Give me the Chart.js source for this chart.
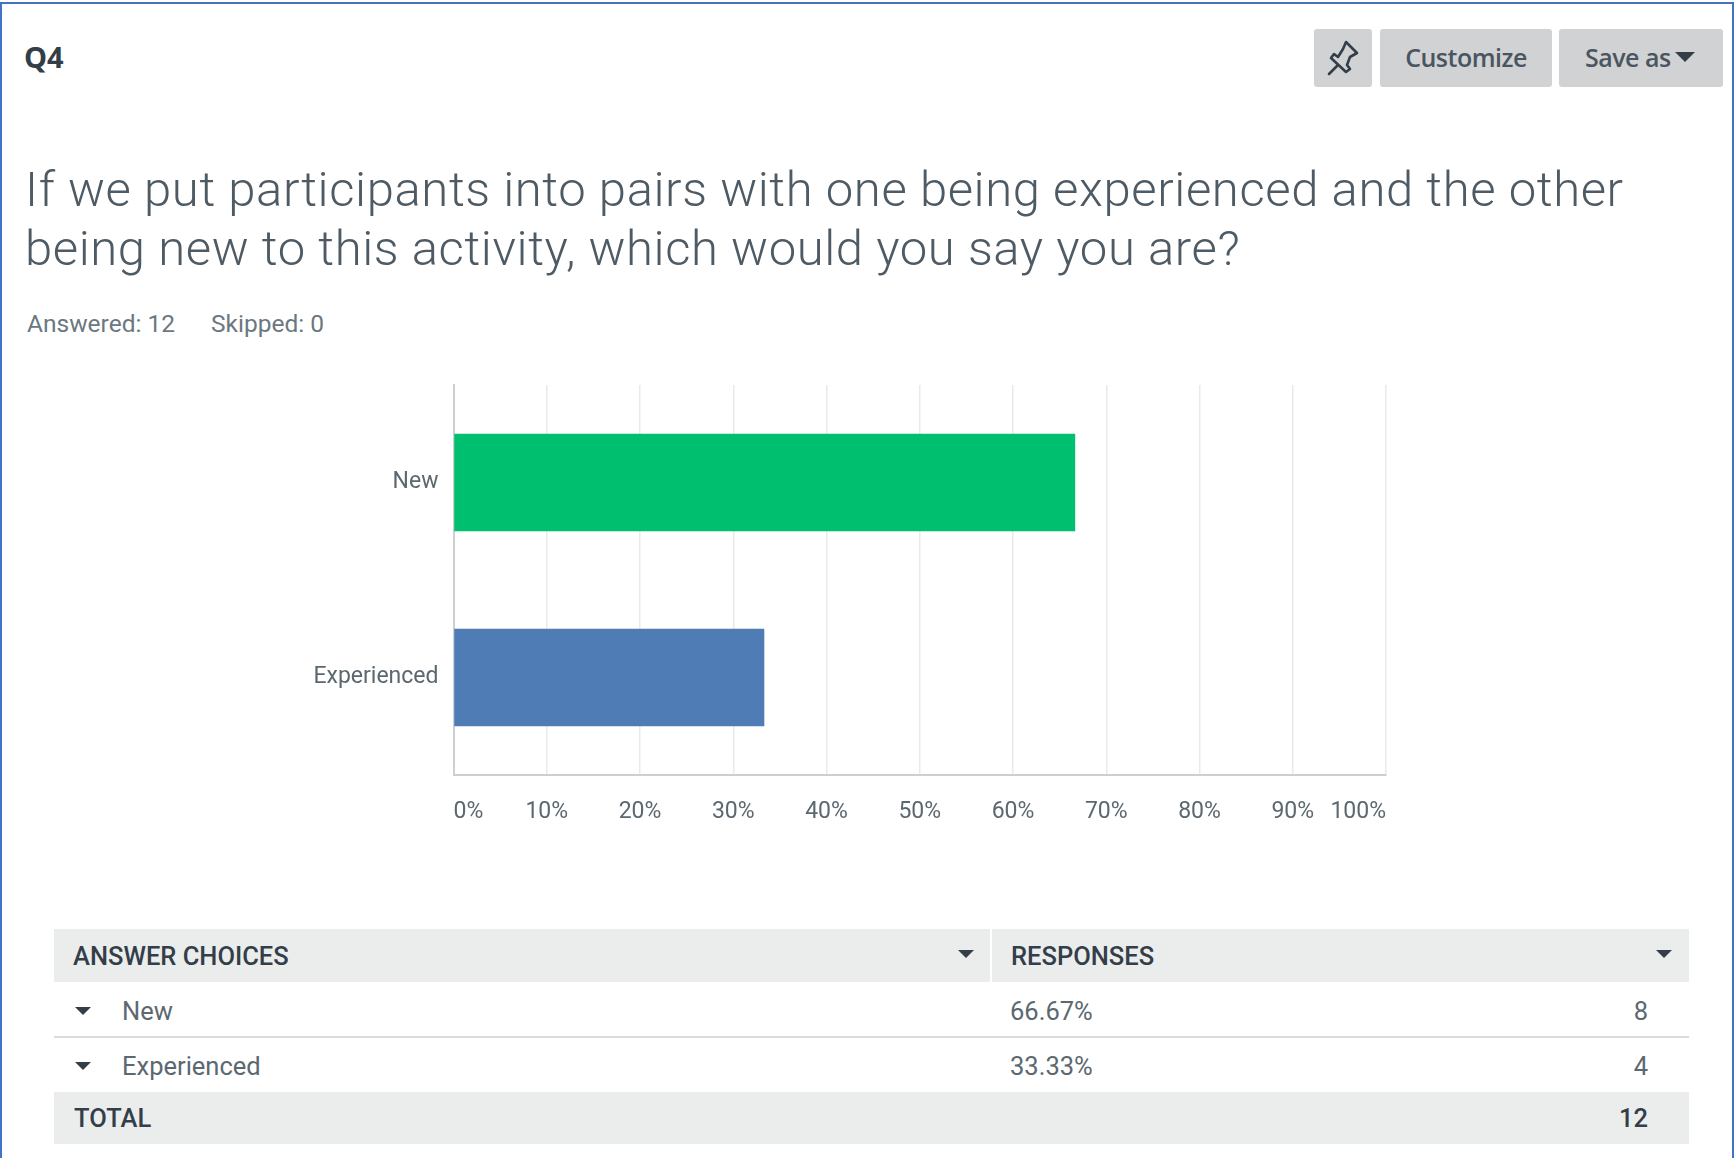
<!DOCTYPE html>
<html>
<head>
<meta charset="utf-8">
<title>Q4</title>
<script src="https://cdn.jsdelivr.net/npm/chart.js@4/dist/chart.umd.min.js"></script>
<style>
html, body { margin: 0; padding: 0; background: #fff; }
#page { position: relative; width: 1734px; height: 1158px; overflow: hidden; font-family: Roboto, sans-serif; color: #333e48; }
#page > * { position: absolute; }
.frame-top { left: 0; top: 2px; width: 1734px; height: 2px; background: #4472c4; }
.frame-left { left: 0; top: 2px; width: 2px; height: 1156px; background: #4472c4; }
.frame-right { left: 1732px; top: 2px; width: 2px; height: 1156px; background: #4472c4; }
.qnum { left: 24px; top: 39px; font: 700 29px/36px "Open Sans", sans-serif; }
.btn { background: #d0d2d3; border-radius: 3px; top: 29px; height: 58px; text-align: center; font: 600 25px/56px "Open Sans", sans-serif; color: #4a5560; letter-spacing: -0.5px; }
.title { left: 25px; top: 161px; font: 300 49px/58.6px Roboto, sans-serif; color: #4f5b64; white-space: nowrap; letter-spacing: 0.6px; }
.meta { top: 309px; font: 400 24.5px/30px Roboto, sans-serif; color: #6b787f; white-space: nowrap; }
#chart-box { left: 260px; top: 357px; width: 1160px; height: 478px; }
.band { background: #ebeded; left: 54px; width: 1635px; }
.cell { white-space: nowrap; font-size: 25.5px; line-height: 30px; }
.head { font-weight: 500; color: #333e48; }
.body { color: #5c6870; }
.num { text-align: right; width: 100px; left: 1548px; }
.tri { width: 0; height: 0; border-left: 8px solid transparent; border-right: 8px solid transparent; border-top: 8px solid #333e48; }
</style>
</head>
<body>
<div id="page">
  <div class="frame-top"></div><div class="frame-left"></div><div class="frame-right"></div>
  <div class="qnum">Q4</div>
  <div class="btn" style="left:1314px;width:58px">
    <svg width="58" height="58" viewBox="0 0 58 58" fill="none" stroke="#333e48" stroke-width="2.6" stroke-linejoin="round" stroke-linecap="round">
      <path d="M32 13 L43 24 L36 28 L33 36 L36 40 L32 43 L17 29 L20 25 L24 28 L29 20 Z"/><path d="M23 37 L15 45"/>
    </svg>
  </div>
  <div class="btn" style="left:1380px;width:172px">Customize</div>
  <div class="btn" style="left:1559px;width:164px;text-align:left;text-indent:26px">Save as</div>
  <div class="tri" style="left:1675px;top:52px;border-left-width:10px;border-right-width:10px;border-top-width:10px"></div>
  <div class="title" id="title"></div>
  <div class="meta" id="answered" style="left:27px"></div>
  <div class="meta" id="skipped" style="left:211px"></div>
  <div id="chart-box"><canvas id="chart"></canvas></div>
  <div id="table"></div>
</div>
<script>
const categories = ['New', 'Experienced'];
const percentValues = [66.67, 33.33];
const responseCounts = [8, 4];
const responseLabels = ['66.67%', '33.33%'];
const barColors = ['#00bf6f', '#507cb6'];
const tickLabels = ['0%', '10%', '20%', '30%', '40%', '50%', '60%', '70%', '80%', '90%', '100%'];
const totalResponses = 12;
const titleLines = ['If we put participants into pairs with one being experienced and the other', 'being new to this activity, which would you say you are?'];

document.getElementById('title').innerHTML = titleLines.join('<br>');
document.getElementById('answered').textContent = 'Answered: 12';
document.getElementById('skipped').textContent = 'Skipped: 0';

function addEl(cls, style, text) {
    const el = document.createElement('div');
    el.className = cls;
    el.style.cssText = 'position:absolute;' + style;
    if (text !== undefined) el.textContent = text;
    document.getElementById('table').appendChild(el);
    return el;
}

// table: header band, two rows, total band
addEl('band', 'top:929px;height:53px');
addEl('', 'left:990px;top:929px;width:2px;height:53px;background:#fff');
addEl('cell head', 'left:73px;top:941px', 'ANSWER CHOICES');
addEl('cell head', 'left:1011px;top:941px', 'RESPONSES');
addEl('tri', 'left:958px;top:950px');
addEl('tri', 'left:1656px;top:950px');
const rowTops = [996, 1051];
categories.forEach((name, i) => {
    addEl('tri', 'left:75px;top:' + (rowTops[i] + 11) + 'px;border-left-width:8px;border-right-width:8px');
    addEl('cell body', 'left:122px;top:' + rowTops[i] + 'px', name);
    addEl('cell body', 'left:1010px;top:' + rowTops[i] + 'px', responseLabels[i]);
    addEl('cell body num', 'top:' + rowTops[i] + 'px', responseCounts[i]);
});
addEl('', 'left:54px;top:1036px;width:1635px;height:2px;background:#d9dcdc');
addEl('band', 'top:1092px;height:52px');
addEl('cell head', 'left:74px;top:1103px', 'TOTAL');
addEl('cell head num', 'top:1103px', totalResponses);

new Chart(document.getElementById('chart'), {
    type: 'bar',
    data: {
        labels: categories,
        datasets: [{
            data: percentValues,
            backgroundColor: barColors,
            barPercentage: 0.5,
            categoryPercentage: 1,
            borderWidth: 0,
        }],
    },
    options: {
        indexAxis: 'y',
        responsive: true,
        maintainAspectRatio: false,
        animation: false,
        layout: { padding: { top: 28, right: 34, left: 0, bottom: 0 } },
        plugins: { legend: { display: false }, tooltip: { enabled: false } },
        scales: {
            x: {
                min: 0,
                max: 100,
                afterFit(scale) { scale.height = 60; },
                afterBuildTicks(scale) { scale.ticks = tickLabels.map((_, i) => ({ value: i * 10 })); },
                border: { color: '#cdd0d0', width: 2 },
                grid: { color: '#e9eaea', lineWidth: 1.5, drawTicks: false },
                ticks: {
                    align: 'inner',
                    maxRotation: 0,
                    autoSkip: false,
                    padding: 23,
                    color: '#5c6870',
                    font: { family: 'Roboto', size: 23 },
                    callback: (v, i) => tickLabels[i],
                },
            },
            y: {
                afterFit(scale) { scale.width = 193.5; },
                border: { color: '#cdd0d0', width: 2 },
                grid: { display: false },
                ticks: {
                    padding: 7,
                    color: '#5c6870',
                    font: { family: 'Roboto', size: 23 },
                },
            },
        },
    },
});
</script>
</body>
</html>
